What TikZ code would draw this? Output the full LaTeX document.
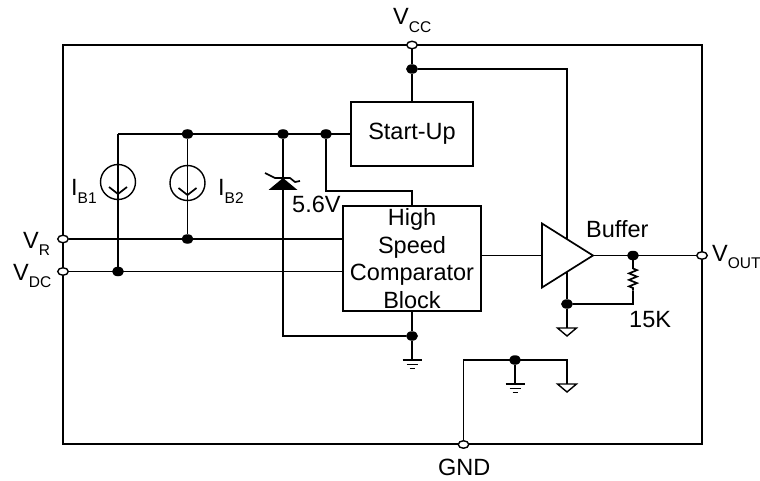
\documentclass[tikz,border=0pt]{standalone}
\usepackage{fontspec}
\setmainfont{Liberation Sans}
\usetikzlibrary{positioning,shapes.geometric,decorations.pathmorphing}
\newcommand{\pinl}[2]{#1\raisebox{-7.5pt}{\fontsize{15.5}{15.5}\selectfont #2}}
\tikzset{
    wire/.style={
        line width=1.7pt
        },
    txt/.style={
        inner sep=0pt,
        anchor=base west,
        font=\fontsize{23.5}{27.5}\selectfont
        },
    blk/.style={ % function boxes
        rectangle,
        draw=black,
        line width=1.7pt,
        fill=white,
        text centered,
        align=center,
        inner sep=0pt,
        font=\fontsize{23.5}{27.5}\selectfont
        },
    dot/.style={ % junction
        ellipse,
        fill=black,
        inner sep=0pt,
        minimum width=12pt,
        minimum height=9.5pt
        },
    pad/.style={ % open pin on the frame
        ellipse,
        draw=black,
        line width=1.4pt,
        fill=white,
        inner sep=0pt,
        minimum width=10.5pt,
        minimum height=7.5pt
        },
    src/.style={ % current source
        circle,
        draw=black,
        line width=1.4pt,
        inner sep=0pt,
        minimum size=35pt
        },
    amptri/.style={
        isosceles triangle,
        isosceles triangle stretches,
        draw=black,
        line width=1.7pt,
        fill=white,
        inner sep=0pt,
        outer sep=0pt,
        minimum width=64pt,
        minimum height=51pt
        },
    gtri/.style={ % open ground
        isosceles triangle,
        isosceles triangle stretches,
        shape border rotate=-90,
        draw=black,
        line width=1.4pt,
        fill=white,
        inner sep=0pt,
        outer sep=0pt,
        minimum width=19pt,
        minimum height=8pt,
        anchor=apex
        },
    earthbars/.pic={
        \draw[wire] (-9.5,0) -- (9.5,0);
        \draw[wire] (-5.5,4.5) -- (5.5,4.5);
        \draw[wire] (-2.5,8.5) -- (2.5,8.5);
        },
    chev/.pic={ % arrow inside a current source
        \draw[wire] (-9,5) -- (0,12) -- (9,5);
        },
    zenerbar/.pic={
        \fill (-14.5,12) -- (14.5,12) -- (0,0) -- cycle;
        \draw[wire] (-18,-5) -- (-8,0) -- (7,0) -- (12,4) -- (17,3);
        }
}
\begin{document}
\begin{tikzpicture}[x=1pt,y=-1pt,on grid]
		\useasboundingbox (0,0) rectangle (760,481);
		
		%%%%% frame
		\node[draw,wire,minimum width=639pt,minimum height=399pt,inner sep=0pt] (frame) at (382.5,244.5) {};
		
		%%%%% pins
		\node[pad] (vcc) at (412,45) {};
		\node[pad] (vr) at (63,239) {};
		\node[pad,below=32.5pt of vr] (vdc) {};
		\node[pad] (vout) at (702,255.5) {};
		\node[pad] (gnd) at (463.5,444.5) {};
		
		%%%%% start-up and comparator
		\node[dot,below=24pt of vcc] (vccj) {};
		\node[blk,below=65pt of vccj,minimum width=121.5pt,minimum height=64.5pt] (startup) {Start-Up};
		\node[blk,below=124.5pt of startup,minimum width=138pt,minimum height=105pt] (comp) {High\\Speed\\Comparator\\Block};
		\draw[wire] (vcc) -- (vccj) -- (startup);
		
		%%%%% top rail
		\coordinate (rail) at (118,134);
		\node[dot,left=224.5pt of startup] (railb) {};
		\node[dot,right=95.5pt of railb] (railz) {};
		\node[dot,right=43pt of railz] (railc) {};
		\draw[wire] (rail) -- (startup);
		
		%%%%% sources
		\node[src] (src1) at (118,182) {};
		\node[src,below=49pt of railb] (src2) {};
		\pic at (src1) {chev};
		\pic at (src2) {chev};
		\node[dot] (dcj) at (rail |- vdc) {};
		\node[dot] (rj) at (railb |- vr) {};
		\draw[wire] (rail) -- (dcj);
		\draw[wire] (railb) -- (rj);
		
		%%%%% inputs
		\draw[wire] (vr) -- (comp.west |- vr);
		\draw[wire] (vdc) -- (comp.west |- vdc);
		
		%%%%% zener and lower rail
		\node[dot] (compj) at (412,336) {};
		\coordinate (zbot) at (railz |- compj);
		\draw[wire] (railz) -- (zbot) -- (compj);
		\draw[wire] (comp) -- (compj);
		\coordinate[below=44pt of railz] (ztip);
		\pic at (ztip) {zenerbar};
		\coordinate[below=24pt of compj] (earthc);
		\draw[wire] (compj) -- (earthc);
		\pic at (earthc) {earthbars};
		
		%%%%% start-up to comparator
		\coordinate (bend) at (412,191);
		\draw[wire] (railc) |- (bend) -- (comp);
		
		%%%%% buffer
		\node[dot] (ampj) at (567,304) {};
		\draw[wire] (vccj) -| (ampj);
		\node[amptri,anchor=apex] (amp) at (593,255.5) {};
		\draw[wire] (amp) -- (comp.east |- amp);
		\node[dot] (outj) at (633,255.5) {};
		\draw[wire] (amp.apex) -- (outj) -- (vout);
		\coordinate[below=13pt of outj] (rtop);
		\coordinate[below=35pt of outj] (rbot);
		\coordinate (rcor) at (outj |- ampj);
		\draw[wire] (outj) -- (rtop);
		\draw[wire,decorate,decoration={zigzag,amplitude=4pt,segment length=6.5pt}] (rtop) -- (rbot);
		\draw[wire] (rbot) -- (rcor) -- (ampj);
		\node[gtri] (ampg) at (567,336) {};
		\draw[wire] (ampj) -- (ampg);
		
		%%%%% ground block
		\coordinate (gndc) at (463.5,360);
		\node[dot] (gndj) at (515,360) {};
		\coordinate (gndr) at (567,360);
		\coordinate[below=24pt of gndj] (earthd);
		\node[gtri] (gndg) at (567,392) {};
		\draw[wire] (gnd) -- (gndc) -- (gndr) -- (gndg);
		\draw[wire] (gndj) -- (earthd);
		\pic at (earthd) {earthbars};
		
		%%%%% labels
		\node[txt] (lvcc) at (393,25) {\pinl{V}{CC}};
		\node[txt] (lvr) at (23,248) {\pinl{V}{R}};
		\node[txt] (lvdc) at (13,280) {\pinl{V}{DC}};
		\node[txt] (lvout) at (712,261) {\pinl{V}{OUT}};
		\node[txt] (lgnd) at (438,475) {GND};
		\node[txt] (lb1) at (71,196) {\pinl{I}{B1}};
		\node[txt] (lb2) at (218,196) {\pinl{I}{B2}};
		\node[txt] (lz) at (292,212) {5.6V};
		\node[txt] (lbuf) at (586,237) {Buffer};
		\node[txt] (lr) at (629,327) {15K};
		\end{tikzpicture}
\end{document}
